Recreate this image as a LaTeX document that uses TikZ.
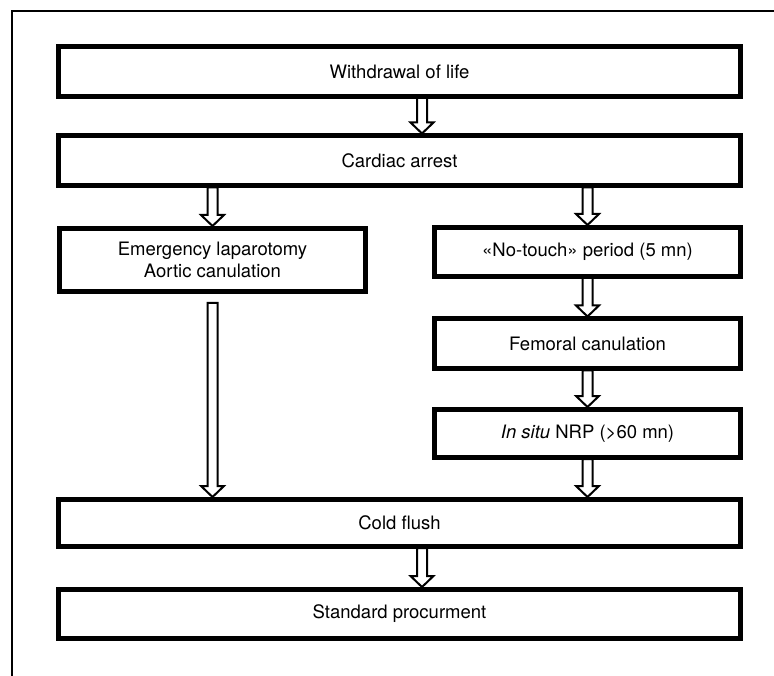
\documentclass[tikz,border=0pt]{standalone}
\usepackage{fontspec}
\setmainfont{TeX Gyre Heros}
\usetikzlibrary{calc}
\begin{document}
\begin{tikzpicture}[x=1pt,y=-1pt,line join=miter,font=\fontsize{18.5pt}{21.5pt}\selectfont,
	box/.style={draw,line width=5pt,minimum width=682pt,minimum height=50pt,align=center},
	half/.style={box,minimum width=306pt},
	blockarr/.style={draw,fill=white,line width=2pt,to path={let \p1=(\tikztostart),\p2=(\tikztotarget) in
		(\x1-5pt,\y1+1pt)--(\x1-5pt,\y2+11pt)--(\x1-11.5pt,\y2+11pt)--(\x1,\y2)--(\x1+11.5pt,\y2+11pt)--(\x1+5pt,\y2+11pt)--(\x1+5pt,\y1+1pt)--cycle}}]
	\useasboundingbox (0,0) rectangle (774,676);
	\draw[line width=2.5pt] (12,676)--(12,11)--(774,11);
	\node[box] (wd) at (399.5,71.5) {Withdrawal of life};
	\node[box] (ca) at (399.5,161) {Cardiac arrest};
	\node[half,minimum height=63pt] (el) at (212.5,260) {Emergency laparotomy\\Aortic canulation};
	\node[half,minimum height=49pt] (nt) at (587.5,252) {«No-touch» period (5 mn)};
	\node[half] (fc) at (587.5,344) {Femoral canulation};
	\node[half,minimum height=48pt] (ns) at (587.5,433.5) {\textit{In situ} NRP (>60 mn)};
	\node[box,minimum height=47pt] (cf) at (399.5,523) {Cold flush};
	\node[box,minimum height=49pt] (sp) at (399.5,614) {Standard procurment};
	\draw[blockarr] ([xshift=22.5pt]wd.south) to ([xshift=22.5pt]ca.north);
	\draw[blockarr] (ca.south -| el.north) to (el.north);
	\draw[blockarr] (ca.south -| nt.north) to (nt.north);
	\draw[blockarr] (nt.south) to (fc.north);
	\draw[blockarr] (fc.south) to (ns.north);
	\draw[blockarr] (ns.south) to (ns.south |- cf.north);
	\draw[blockarr] ([yshift=-10pt]el.south) to (el.south |- cf.north);
	\draw[blockarr] ([xshift=22.5pt]cf.south) to ([xshift=22.5pt]sp.north);
\end{tikzpicture}
\end{document}
